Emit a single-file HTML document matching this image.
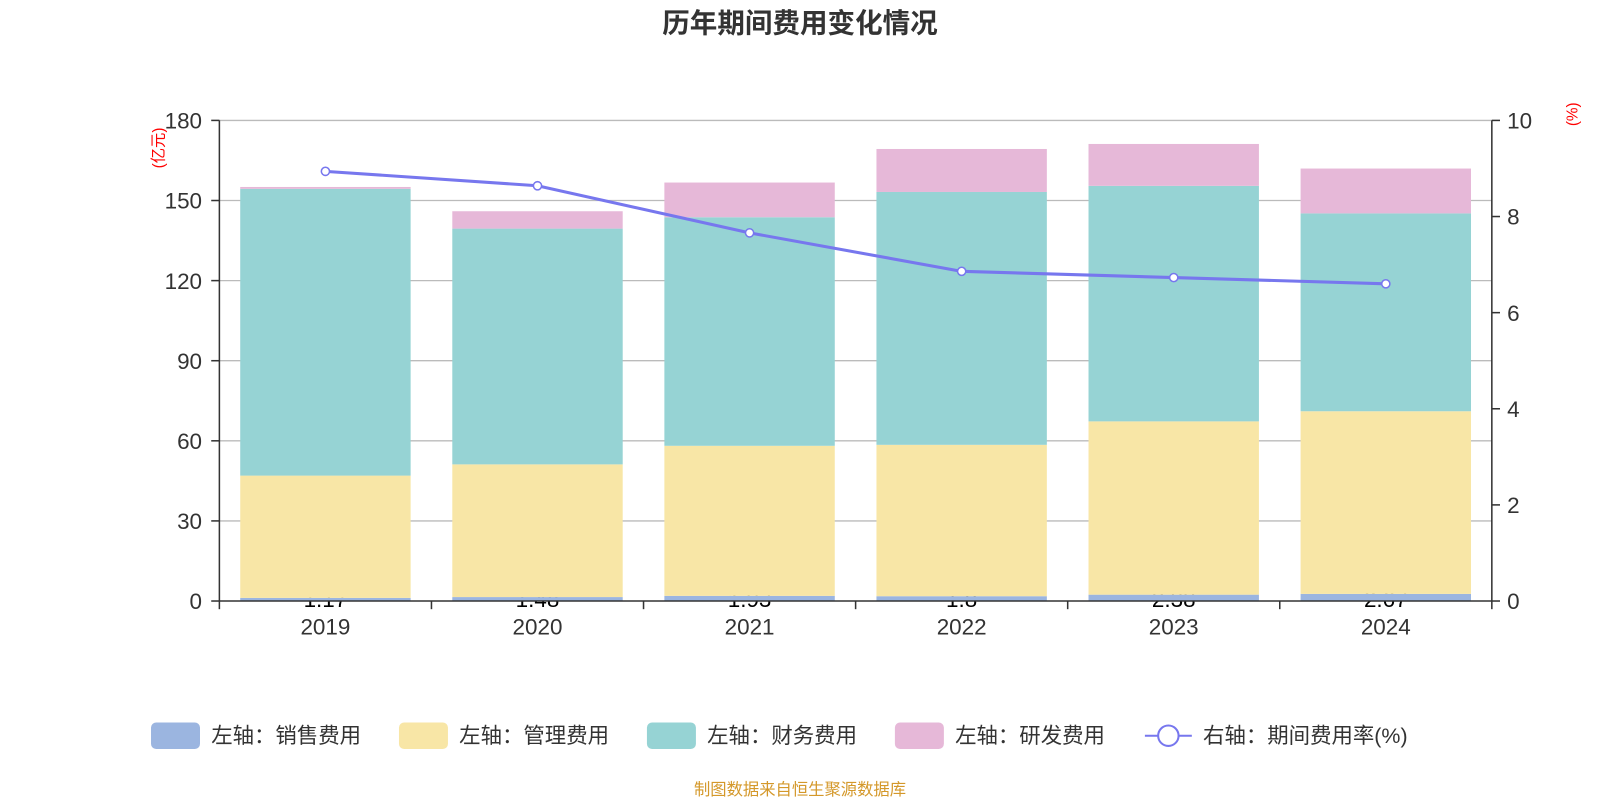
<!DOCTYPE html>
<html><head><meta charset="utf-8"><style>
html,body{margin:0;padding:0;background:#fff}
svg{display:block;font-family:"Liberation Sans","Noto Sans CJK SC",sans-serif}
</style></head><body>
<svg id="chart" width="1600" height="800" viewBox="0 0 1568 784" xmlns="http://www.w3.org/2000/svg">
<text x="784" y="32" text-anchor="middle" font-size="27" font-weight="bold" fill="#333">历年期间费用变化情况</text>
<g id="grid"></g><g id="labels"></g><g id="bars"></g><g id="axes"></g><g id="line"></g>
<text transform="translate(160,145) rotate(-90)" text-anchor="middle" font-size="15" fill="red">(亿元)</text>
<text transform="translate(1546,112) rotate(-90)" text-anchor="middle" font-size="15" fill="red">(%)</text>
<g font-size="21" fill="#333">
<g><rect x="148" y="708" width="48" height="26" rx="5" fill="#9bb5e0"/><text x="207" y="728">左轴：销售费用</text></g>
<g><rect x="391" y="708" width="48" height="26" rx="5" fill="#f8e6a6"/><text x="450" y="728">左轴：管理费用</text></g>
<g><rect x="634" y="708" width="48" height="26" rx="5" fill="#96d3d4"/><text x="693" y="728">左轴：财务费用</text></g>
<g><rect x="877" y="708" width="48" height="26" rx="5" fill="#e6b8d8"/><text x="936" y="728">左轴：研发费用</text></g>
<g><line x1="1122" y1="721" x2="1168" y2="721" stroke="#7777ee" stroke-width="2"/><circle cx="1145" cy="721" r="10" fill="#fff" stroke="#7777ee" stroke-width="2"/><text x="1179" y="728">右轴：期间费用率(%)</text></g>
</g>
<text x="784" y="779" text-anchor="middle" font-size="16" fill="#d4982a">制图数据来自恒生聚源数据库</text>
<script>
const categories=["2019","2020","2021","2022","2023","2024"];
const sales=[1.17,1.48,1.93,1.8,2.38,2.67];
const admin=[45.8,49.7,56.2,56.7,64.9,68.4];
const finance=[107.4,88.3,85.6,94.7,88.2,74.1];
const rd=[0.7,6.5,13.0,16.1,15.7,16.8];
const rate=[8.94,8.64,7.66,6.86,6.73,6.60];
const leftTicks=[0,30,60,90,120,150,180];
const rightTicks=[0,2,4,6,8,10];
const NS="http://www.w3.org/2000/svg";
const X0=215,X1=1462,Y0=589,Y1=118;
const yL=v=>Y0-(v/180)*(Y0-Y1);
const yR=v=>Y0-(v/10)*(Y0-Y1);
const band=(X1-X0)/categories.length;
const xc=i=>X0+band*(i+0.5);
const BW=167;
function mk(t,a,p){const e=document.createElementNS(NS,t);for(const k in a)e.setAttribute(k,a[k]);document.getElementById(p).appendChild(e);return e;}
leftTicks.forEach(v=>{
 if(v>0){const g=mk('line',{x1:X0,x2:X1,y1:yL(v),y2:yL(v),stroke:'#bbb','stroke-width':1.3},'grid');
 
 }
 const t=mk('text',{x:198,y:yL(v)+8,'text-anchor':'end','font-size':22,fill:'#333'},'axes');t.textContent=v;
 
 
 mk('line',{x1:X0-8,x2:X0,y1:yL(v),y2:yL(v),stroke:'#333','stroke-width':1.5},'axes');
});
rightTicks.forEach(v=>{
 const t=mk('text',{x:1477,y:yR(v)+8,'font-size':22,fill:'#333'},'axes');t.textContent=v;
 
 
 mk('line',{x1:X1,x2:X1+8,y1:yR(v),y2:yR(v),stroke:'#333','stroke-width':1.5},'axes');
});
mk('line',{x1:X0,x2:X0,y1:Y1,y2:Y0,stroke:'#333','stroke-width':1.5},'axes');
mk('line',{x1:X1,x2:X1,y1:Y1,y2:Y0,stroke:'#333','stroke-width':1.5},'axes');
mk('line',{x1:X0,x2:X1,y1:Y0,y2:Y0,stroke:'#333','stroke-width':1.5},'axes');
for(let i=0;i<=categories.length;i++)mk('line',{x1:X0+band*i,x2:X0+band*i,y1:Y0,y2:Y0+8,stroke:'#333','stroke-width':1.5},'axes');
const series=[[sales,'#9bb5e0','sales'],[admin,'#f8e6a6','admin'],[finance,'#96d3d4','finance'],[rd,'#e6b8d8','rd']];
categories.forEach((c,i)=>{
 const xl=mk('text',{x:xc(i),y:622,'text-anchor':'middle','font-size':22,fill:'#333'},'axes');xl.textContent=c;
 
 
 const lb=mk('text',{x:xc(i),y:595,'text-anchor':'middle','font-size':22,fill:'#000'},'labels');lb.textContent=sales[i];
 
 
 let acc=0;
 series.forEach(([arr,col,nm])=>{
  const y1=yL(acc+arr[i]),y0=yL(acc);acc+=arr[i];
  const r=mk('rect',{x:xc(i)-BW/2,y:y1,width:BW,height:Math.max(0,y0-y1),fill:col},'bars');
  
  
 });
});
const pl=mk('polyline',{points:rate.map((v,i)=>xc(i)+','+yR(v)).join(' '),fill:'none',stroke:'#7777ee','stroke-width':3},'line');


rate.forEach((v,i)=>{
 const p=mk('circle',{cx:xc(i),cy:yR(v),r:4,fill:'#fff',stroke:'#7777ee','stroke-width':1.5},'line');
 
 
});
</script>
</svg>
</body></html>
